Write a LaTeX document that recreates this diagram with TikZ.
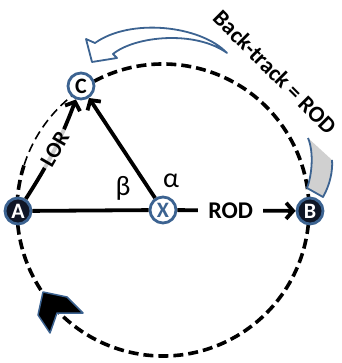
\documentclass[tikz,border=0pt]{standalone}
\usepackage{fontspec}
\setmainfont{Carlito}
\usetikzlibrary{arrows.meta}
\definecolor{nodeblue}{HTML}{3C6391}
\definecolor{navy}{HTML}{0F1626}
\definecolor{tailgrey}{HTML}{D0D0D0}
\begin{document}
\begin{tikzpicture}[x=1pt,y=-1pt,
  ptdark/.style={circle,draw=nodeblue,line width=2.8pt,fill=navy,text=white,
    font=\bfseries\fontsize{22}{22}\selectfont,inner sep=0pt,minimum size=26pt},
  ptlight/.style={circle,draw=nodeblue,line width=2.8pt,fill=white,text=black,
    font=\bfseries\fontsize{22}{22}\selectfont,inner sep=0pt,minimum size=26pt},
  vec/.style={line width=3.8pt,-{Straight Barb[length=7pt,width=16pt]}},
  bar/.style={line width=3.8pt},
  orbit/.style={line width=3.6pt,dash pattern=on 10pt off 5pt},
  orbitthin/.style={line width=1.6pt,dash pattern=on 9pt off 5pt},
  lbl/.style={font=\bfseries\fontsize{24}{24}\selectfont},
  greek/.style={font=\fontsize{28}{28}\selectfont},
  ribbon/.style={draw=nodeblue,line width=1.8pt,line join=round}
]
\useasboundingbox (0,0) rectangle (341,363);

% dashed circle
\draw[orbit] (163,210) ++(236:146) arc[start angle=236,end angle=558,radius=146];
\draw[orbitthin] (163,210) ++(198:146) arc[start angle=198,end angle=236,radius=146];

% grey tail near B
\fill[tailgrey] (308,138) .. controls (314,152) and (312,175) .. (307,188)
  -- (323,197) .. controls (330,185) and (333,170) .. (332,160) -- cycle;
\draw[ribbon] (308,138) .. controls (314,152) and (312,175) .. (307,188)
  -- (323,197) .. controls (330,185) and (333,170) .. (332,160);

% back-track curved arrow
\filldraw[ribbon,fill=white] (227,53) .. controls (200,25) and (130,18) .. (95,43)
  -- (86,39) -- (92,62) -- (117,58) -- (113,54)
  .. controls (135,36) and (195,30) .. (227,53) -- cycle;

% direction chevron
\filldraw[draw=nodeblue,line width=1.5pt,fill=black,line join=round]
  (43,292) -- (67,297) -- (83,313) -- (57,313) -- (50,333) -- (38,315) -- cycle;

% nodes
\node[ptdark] (A) at (18,211) {A};
\node[ptdark] (B) at (310,211) {B};
\node[ptlight] (C) at (81,86) {C};
\node[ptlight,text=nodeblue,font=\bfseries\fontsize{22}{22}\selectfont] (X) at (163,210) {X};

% vectors
\draw[bar] (A) -- (X);
\draw[vec] (X) -- (C);
\draw[vec] (X) -- node[lbl,fill=white,inner xsep=10pt,pos=0.45] {ROD} (B);
\draw[vec] (A) to[bend right=6] node[fill=white,fill opacity=0.8,text opacity=1,
  rotate=60,font=\bfseries\fontsize{22}{22}\selectfont,pos=0.52] {LOR} (C);

% angles
\node[greek] (beta) at (123,188) {β};
\node[greek] (alpha) at (171,181) {α};

% back-track label
\node[font=\bfseries\fontsize{23}{23}\selectfont,rotate=-45] (bt) at (275,72) {Back-track = ROD};
\end{tikzpicture}
\end{document}
